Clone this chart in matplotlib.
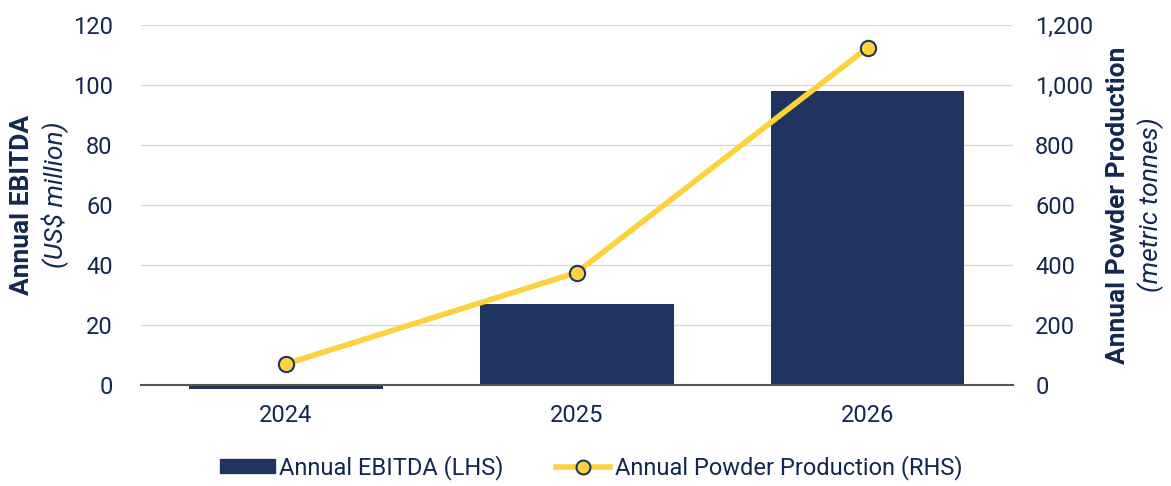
import numpy as np
import matplotlib.pyplot as plt
from matplotlib.lines import Line2D
from matplotlib.patches import Patch

plt.rcParams['font.family'] = ['Roboto', 'DejaVu Sans']

years = ['2024', '2025', '2026']
ebitda = [-1.2, 27.0, 98.0]          # US$ million (LHS)
powder = [70, 375, 1125]             # metric tonnes (RHS)

NAVY = '#1f3560'
YELLOW = '#fdd23e'
TEXT = '#13284f'
GRID = '#d9d9d9'


def main():
    fig = plt.figure(figsize=(11.71, 4.86), dpi=100)
    ax = fig.add_axes([0.12, 0.208, 0.745, 0.74])
    x = np.arange(len(years))

    ax.bar(x, ebitda, width=0.667, color=NAVY, zorder=2, clip_on=False)
    ax.set_xlim(-0.5, 2.5)
    ax.set_ylim(0, 120)
    ax.set_yticks(np.arange(0, 121, 20))
    ax.set_xticks(x)
    ax.set_xticklabels(years)
    ax.yaxis.grid(True, color=GRID, lw=1, zorder=0)
    ax.set_axisbelow(True)
    for s in ['top', 'left', 'right']:
        ax.spines[s].set_visible(False)
    ax.spines['bottom'].set_color('#555555')
    ax.spines['bottom'].set_linewidth(1.5)
    ax.spines['bottom'].set_zorder(3)
    ax.tick_params(axis='y', length=0, labelsize=17, labelcolor=TEXT, pad=20)
    ax.tick_params(axis='x', length=0, labelsize=17, labelcolor=TEXT, pad=14)

    ax2 = ax.twinx()
    ax2.plot(x, powder, color=YELLOW, lw=4, marker='o', ms=11,
             mfc=YELLOW, mec=NAVY, mew=1.5, zorder=4)
    ax2.set_ylim(0, 1200)
    ax2.set_yticks(np.arange(0, 1201, 200))
    ax2.set_yticklabels([f'{v:,}' for v in range(0, 1201, 200)])
    for s in ['top', 'left', 'right', 'bottom']:
        ax2.spines[s].set_visible(False)
    ax2.tick_params(axis='y', length=0, labelsize=17, labelcolor=TEXT, pad=16)

    # axis titles, bold name + italic unit
    fig.text(0.019, 0.578, 'Annual EBITDA', rotation=90, ha='center', va='center',
             fontsize=19, fontweight='bold', color=TEXT)
    fig.text(0.047, 0.60, '(US$ million)', rotation=90, ha='center', va='center',
             fontsize=19, style='italic', color=TEXT)
    fig.text(0.955, 0.578, 'Annual Powder Production', rotation=90, ha='center',
             va='center', fontsize=19, fontweight='bold', color=TEXT)
    fig.text(0.983, 0.578, '(metric tonnes)', rotation=90, ha='center', va='center',
             fontsize=19, style='italic', color=TEXT)

    handles = [Patch(color=NAVY),
               Line2D([0], [0], color=YELLOW, lw=4, marker='o', ms=10,
                      mfc=YELLOW, mec=NAVY, mew=1.5)]
    leg = fig.legend(handles, ['Annual EBITDA (LHS)', 'Annual Powder Production (RHS)'],
                     loc='center', bbox_to_anchor=(0.505, 0.038), ncol=2, frameon=False,
                     fontsize=17, handlelength=2.3, handleheight=0.5,
                     handletextpad=0.2, columnspacing=2.2)
    for t in leg.get_texts():
        t.set_color(TEXT)

    fig.savefig('out.png', dpi=100)


if __name__ == "__main__":
    main()
